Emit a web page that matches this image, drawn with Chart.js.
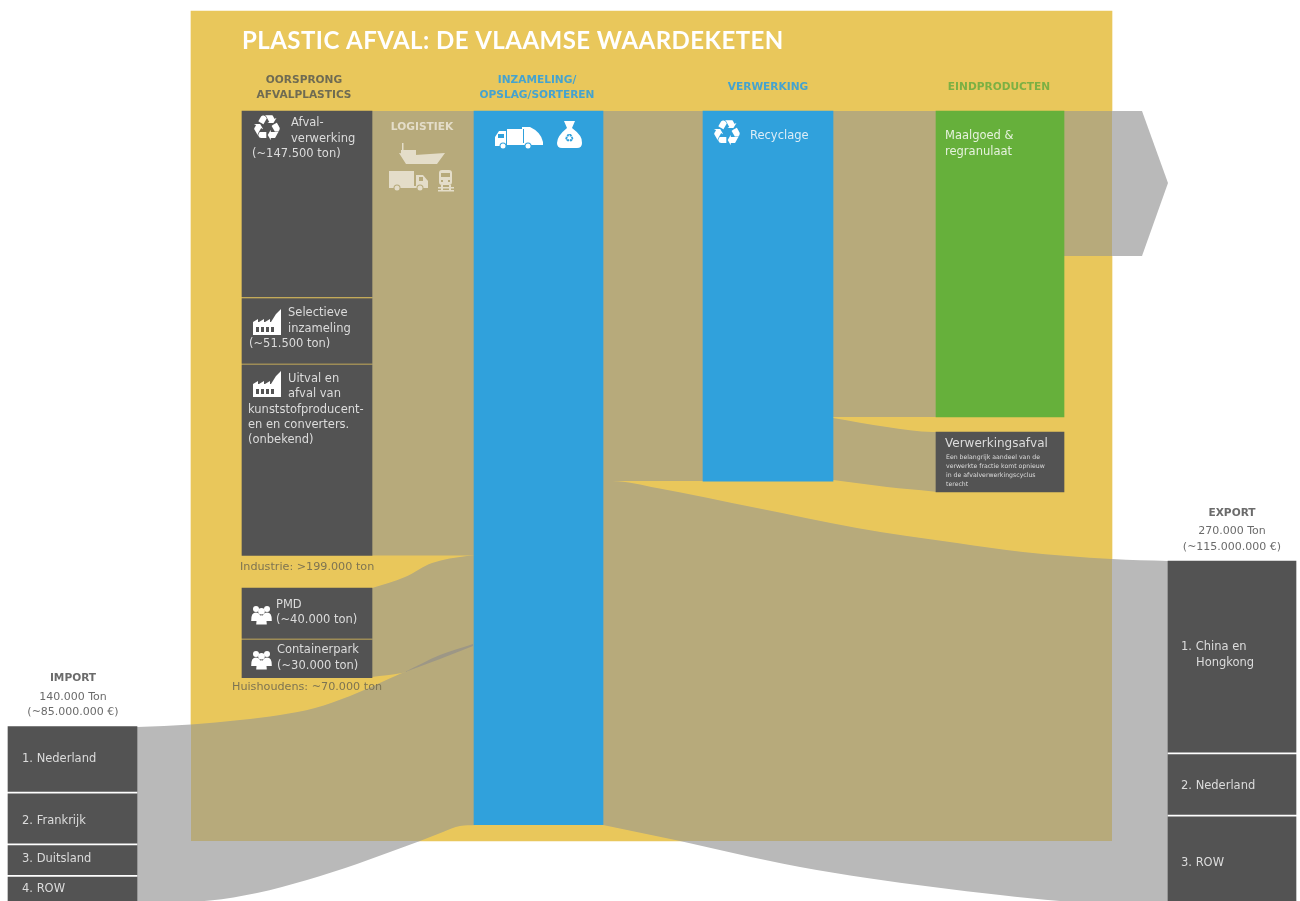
<!DOCTYPE html>
<html>
<head>
<meta charset="utf-8">
<title>Plastic afval: de Vlaamse waardeketen</title>
<script src="https://cdn.jsdelivr.net/npm/chart.js@4"></script>
<style>
  html, body { margin: 0; padding: 0; background: #fff; }
  canvas { display: block; }
</style>
</head>
<body>
<canvas id="chain" width="1300" height="901"></canvas>
<script>
// Tonnages per node
const sourceTons = [147500, 51500, 151000];
const householdTons = [40000, 30000];
const importCountries = ["1. Nederland", "2. Frankrijk", "3. Duitsland", "4. ROW"];
const importTons = [51500, 39000, 23000, 26500];
const exportCountries = ["1. China en", "2. Nederland", "3. ROW"];
const exportTons = [151500, 47500, 71000];
const collectedTons = [566000];
const recycledTons = [293500];
const productTons = [242500];
const residueTons = [47500];

const TONS_PER_PX = 793;

const YELLOW = "#e9c75b";
const KHAKI = "#b7aa7b";
const GREY = "#b9b9b9";
const DARK = "#535353";
const BLUE = "#30a1dc";
const GREEN = "#66b03b";
const FONT = '"DejaVu Sans"';

// Builds one floating bar per node, stacked downwards from a top position
function column(center, width, top, tons, color, gap) {
  let y = top;
  return tons.map((t) => {
    const end = y + t / TONS_PER_PX;
    const ds = {
      type: "bar",
      data: [{ x: center, y: [y, end] }],
      backgroundColor: color,
      barThickness: width,
      grouped: false,
      order: 1,
    };
    y = end + gap;
    return ds;
  });
}

// A flow band is two line datasets with the fill between them
function band(upper, lower, opts = {}) {
  const curve = opts.straight
    ? { cubicInterpolationMode: "default", tension: 0 }
    : { cubicInterpolationMode: "monotone" };
  const edge = {
    type: "line",
    pointRadius: 0,
    borderWidth: 0,
    borderColor: "transparent",
    order: opts.order || 10,
    isFlow: !opts.color,
    ...curve,
  };
  const toPoints = (list) => list.map(([x, y]) => ({ x, y }));
  return [
    { ...edge, data: toPoints(upper), fill: "+1", backgroundColor: opts.color || KHAKI },
    { ...edge, data: toPoints(lower), fill: false },
  ];
}

const datasets = [
  // flows
  ...band([[372, 111], [476, 111]], [[372, 555.5], [476, 555.5]], { straight: true }),
  ...band(
    [[372, 588], [405, 577], [432, 563], [467, 556], [476, 555]],
    [[372, 677], [402, 673], [430, 665], [476, 645]]
  ),
  ...band(
    [[137, 727], [191, 724.5], [240, 720], [280, 715], [315, 708], [350, 696], [402, 673], [440, 657], [476, 643]],
    [[137, 903], [210, 900.5], [257, 893], [307, 880], [357, 864], [390, 852], [420, 841], [443, 832], [460, 826], [476, 825]]
  ),
  ...band([[603, 111], [703, 111]], [[603, 481], [703, 481]], { straight: true }),
  ...band(
    [[603, 481], [612, 481], [657, 488], [757, 508], [857, 528], [957, 543], [1023, 552], [1112, 559], [1168, 561]],
    [[603, 825], [680, 841], [733, 853], [800, 867], [867, 878], [933, 887], [1000, 895], [1060, 901], [1168, 906]]
  ),
  ...band([[833, 111], [936, 111]], [[833, 417], [936, 417]], { straight: true }),
  ...band(
    [[833, 418], [887, 427], [933, 432], [936, 432]],
    [[833, 480], [887, 487], [933, 491.5], [936, 492]]
  ),
  ...band(
    [[1064, 111], [1142, 111], [1168, 183]],
    [[1064, 256], [1142, 256], [1168, 183]],
    { straight: true }
  ),
  // darker slivers where two flows run over each other
  ...band([[405, 672], [440, 655], [473, 644]], [[405, 672], [440, 659], [473, 646]], { color: "#9d9786", order: 5 }),
  ...band([[595, 825], [603, 745]], [[595, 825], [603, 825]], { color: "#7f9cb8", order: 0, straight: true }),
  // nodes
  ...column(307, 130, 111, sourceTons, DARK, 1.5),
  ...column(307, 130, 588, householdTons, DARK, 1.5),
  ...column(72.5, 129, 726.5, importTons, DARK, 2.5),
  ...column(1232, 128, 561, exportTons, DARK, 2.5),
  ...column(538.5, 129, 111, collectedTons, BLUE, 0),
  ...column(768, 130, 111, recycledTons, BLUE, 0),
  ...column(1000, 128, 111, productTons, GREEN, 0),
  ...column(1000, 128, 432, residueTons, DARK, 0),
  // background panel
  {
    type: "bar",
    data: [{ x: 651.5, y: [11, 841] }],
    backgroundColor: YELLOW,
    barThickness: 921,
    grouped: false,
    order: 20,
  },
];

const WHITE = "#ffffff";
const SOFT = "#dcdcdc";
const SAND = "#e4ddc9";
const OLIVE = "#7d7452";
const HEAD_DARK = "#6f6b52";
const HEAD_BLUE = "#45a3cf";
const HEAD_GREEN = "#7cb043";
const CAPTION = "#6b6b6b";

// text, x, y (middle), size, colour, weight, align
const captions = [
  ["OORSPRONG", 304, 80, 10.6, HEAD_DARK, "bold", "center"],
  ["AFVALPLASTICS", 304, 95, 10.6, HEAD_DARK, "bold", "center"],
  ["INZAMELING/", 537, 80, 10.6, HEAD_BLUE, "bold", "center"],
  ["OPSLAG/SORTEREN", 537, 95, 10.6, HEAD_BLUE, "bold", "center"],
  ["VERWERKING", 768, 87, 10.6, HEAD_BLUE, "bold", "center"],
  ["EINDPRODUCTEN", 999, 87, 10.6, HEAD_GREEN, "bold", "center"],
  ["LOGISTIEK", 422, 127, 10.6, SAND, "bold", "center"],
  ["Afval-", 291, 123, 11.5, SOFT],
  ["verwerking", 291, 139, 11.5, SOFT],
  ["(~147.500 ton)", 252, 154, 11.5, SOFT],
  ["Selectieve", 288, 313, 11.5, SOFT],
  ["inzameling", 288, 329, 11.5, SOFT],
  ["(~51.500 ton)", 249, 344, 11.5, SOFT],
  ["Uitval en", 288, 379, 11.5, SOFT],
  ["afval van", 288, 394, 11.5, SOFT],
  ["kunststofproducent-", 248, 410, 11.5, SOFT],
  ["en en converters.", 248, 425, 11.5, SOFT],
  ["(onbekend)", 248, 440, 11.5, SOFT],
  ["Industrie: >199.000 ton", 240, 567, 11.2, OLIVE],
  ["PMD", 276, 605, 11.5, SOFT],
  ["(~40.000 ton)", 276, 620, 11.5, SOFT],
  ["Containerpark", 277, 650, 11.5, SOFT],
  ["(~30.000 ton)", 277, 666, 11.5, SOFT],
  ["Huishoudens: ~70.000 ton", 232, 687, 11.2, OLIVE],
  ["IMPORT", 73, 678, 10.6, CAPTION, "bold", "center"],
  ["140.000 Ton", 73, 697, 11, CAPTION, "normal", "center"],
  ["(~85.000.000 €)", 73, 712, 11, CAPTION, "normal", "center"],
  [importCountries[0], 22, 759, 11.5, SOFT],
  [importCountries[1], 22, 821, 11.5, SOFT],
  [importCountries[2], 22, 859, 11.5, SOFT],
  [importCountries[3], 22, 889, 11.5, SOFT],
  ["EXPORT", 1232, 513, 10.6, CAPTION, "bold", "center"],
  ["270.000 Ton", 1232, 531, 11, CAPTION, "normal", "center"],
  ["(~115.000.000 €)", 1232, 547, 11, CAPTION, "normal", "center"],
  [exportCountries[0], 1181, 647, 11.5, SOFT],
  ["Hongkong", 1196, 663, 11.5, SOFT],
  [exportCountries[1], 1181, 786, 11.5, SOFT],
  [exportCountries[2], 1181, 863, 11.5, SOFT],
  ["Recyclage", 750, 136, 11.5, "#dcedf7"],
  ["Maalgoed &", 945, 136, 11.5, "#e6f2dd"],
  ["regranulaat", 945, 152, 11.5, "#e6f2dd"],
  ["Verwerkingsafval", 945, 444, 12, SOFT],
  ["Een belangrijk aandeel van de", 946, 457, 6.2, SOFT],
  ["verwerkte fractie komt opnieuw", 946, 466, 6.2, SOFT],
  ["in de afvalverwerkingscyclus", 946, 475, 6.2, SOFT],
  ["terecht", 946, 484, 6.2, SOFT],
];

function drawFactory(ctx, x, y) {
  ctx.fillStyle = WHITE;
  ctx.beginPath();
  ctx.moveTo(x, y + 26);
  ctx.lineTo(x, y + 13);
  for (let i = 0; i < 3; i++) {
    ctx.lineTo(x + 5 + i * 6, y + 10);
    ctx.lineTo(x + 5 + i * 6, y + 13);
    ctx.lineTo(x + 6 + i * 6, y + 13);
  }
  ctx.lineTo(x + 23, y + 5);
  ctx.lineTo(x + 28, y);
  ctx.lineTo(x + 28, y + 26);
  ctx.closePath();
  ctx.fill();
  ctx.fillStyle = DARK;
  for (let i = 0; i < 4; i++) ctx.fillRect(x + 3 + i * 5, y + 18, 3, 5);
}

function drawPeople(ctx, x, y) {
  ctx.fillStyle = WHITE;
  const person = (cx, top, r) => {
    ctx.beginPath();
    ctx.arc(cx, top + r, r, 0, Math.PI * 2);
    ctx.fill();
    ctx.beginPath();
    ctx.moveTo(cx - r * 1.6, top + r * 5);
    ctx.quadraticCurveTo(cx - r * 1.7, top + r * 2.2, cx, top + r * 2.2);
    ctx.quadraticCurveTo(cx + r * 1.7, top + r * 2.2, cx + r * 1.6, top + r * 5);
    ctx.closePath();
    ctx.fill();
  };
  person(x + 4, y + 1, 3);
  person(x + 15, y + 1, 3);
  person(x + 9.5, y + 3, 3.3);
}

function drawLorry(ctx, x, y, color, bg) {
  ctx.fillStyle = color;
  ctx.fillRect(x, y, 25, 15);
  ctx.beginPath();
  ctx.moveTo(x + 27, y + 4);
  ctx.lineTo(x + 34, y + 4);
  ctx.lineTo(x + 39, y + 10);
  ctx.lineTo(x + 39, y + 16);
  ctx.lineTo(x + 27, y + 16);
  ctx.closePath();
  ctx.fill();
  ctx.fillRect(x, y + 15, 39, 2);
  ctx.fillStyle = bg;
  ctx.fillRect(x + 30, y + 6, 4, 4);
  wheel(ctx, x + 8, y + 17, color, bg);
  wheel(ctx, x + 31, y + 17, color, bg);
}

function wheel(ctx, x, y, color, bg) {
  ctx.fillStyle = bg;
  ctx.beginPath();
  ctx.arc(x, y, 3.5, 0, Math.PI * 2);
  ctx.fill();
  ctx.fillStyle = color;
  ctx.beginPath();
  ctx.arc(x, y, 2.5, 0, Math.PI * 2);
  ctx.fill();
}

function drawShip(ctx, x, y, color) {
  ctx.fillStyle = color;
  ctx.fillRect(x + 3, y, 1.5, 10);
  ctx.fillRect(x + 2, y + 7, 15, 5);
  ctx.beginPath();
  ctx.moveTo(x, y + 10);
  ctx.lineTo(x + 16, y + 12);
  ctx.lineTo(x + 46, y + 10);
  ctx.lineTo(x + 38, y + 21);
  ctx.lineTo(x + 7, y + 21);
  ctx.closePath();
  ctx.fill();
}

function drawTrain(ctx, x, y, color, bg) {
  ctx.fillStyle = color;
  ctx.beginPath();
  ctx.roundRect(x + 1, y, 13, 15, 3);
  ctx.fill();
  ctx.fillStyle = bg;
  ctx.fillRect(x + 3, y + 3, 9, 4);
  ctx.fillRect(x + 3, y + 10, 2, 2);
  ctx.fillRect(x + 10, y + 10, 2, 2);
  ctx.fillStyle = color;
  ctx.fillRect(x, y + 17, 16, 1.5);
  ctx.fillRect(x, y + 20, 16, 1.5);
  ctx.fillRect(x + 3, y + 15, 2, 6);
  ctx.fillRect(x + 11, y + 15, 2, 6);
}

function drawGarbageTruck(ctx, x, y) {
  ctx.fillStyle = WHITE;
  ctx.fillRect(x + 13, y + 3, 15, 16);
  ctx.beginPath();
  ctx.moveTo(x + 28, y + 1);
  ctx.lineTo(x + 36, y + 1);
  ctx.quadraticCurveTo(x + 47, y + 6, x + 49, y + 16);
  ctx.lineTo(x + 49, y + 19);
  ctx.lineTo(x + 28, y + 19);
  ctx.closePath();
  ctx.fill();
  ctx.beginPath();
  ctx.moveTo(x + 1, y + 20);
  ctx.lineTo(x + 1, y + 11);
  ctx.lineTo(x + 5, y + 5);
  ctx.lineTo(x + 12, y + 5);
  ctx.lineTo(x + 12, y + 20);
  ctx.closePath();
  ctx.fill();
  ctx.fillStyle = BLUE;
  ctx.fillRect(x + 4, y + 8, 6, 4);
  ctx.fillRect(x + 29, y + 3, 1, 14);
  wheel(ctx, x + 9, y + 20, WHITE, BLUE);
  wheel(ctx, x + 34, y + 20, WHITE, BLUE);
}

function drawBag(ctx, x, y) {
  ctx.fillStyle = WHITE;
  ctx.beginPath();
  ctx.moveTo(x + 7, y);
  ctx.lineTo(x + 18, y);
  ctx.lineTo(x + 15, y + 7);
  ctx.quadraticCurveTo(x + 26, y + 15, x + 25, y + 22);
  ctx.quadraticCurveTo(x + 25, y + 27, x + 20, y + 27);
  ctx.lineTo(x + 5, y + 27);
  ctx.quadraticCurveTo(x, y + 27, x, y + 22);
  ctx.quadraticCurveTo(x, y + 15, x + 10, y + 7);
  ctx.closePath();
  ctx.fill();
  ctx.fillStyle = BLUE;
  ctx.font = "11px " + FONT;
  ctx.textAlign = "center";
  ctx.textBaseline = "middle";
  ctx.fillText("♻", x + 12.5, y + 18);
}

// Captions and pictograms go on top of the datasets
const annotations = {
  id: "annotations",
  afterDatasetsDraw(chart) {
    const { ctx, scales } = chart;
    const px = (v) => scales.x.getPixelForValue(v);
    const py = (v) => scales.y.getPixelForValue(v);
    ctx.save();

    ctx.font = 'bold 24px Lato';
    ctx.letterSpacing = "0.46px";
    ctx.fillStyle = WHITE;
    ctx.textAlign = "left";
    ctx.textBaseline = "middle";
    ctx.fillText("PLASTIC AFVAL: DE VLAAMSE WAARDEKETEN", px(242), py(41));
    ctx.letterSpacing = "0px";

    captions.forEach(([text, x, y, size, color, weight = "normal", align = "left"]) => {
      ctx.font = `${weight} ${size}px ${FONT}`;
      ctx.fillStyle = color;
      ctx.textAlign = align;
      ctx.textBaseline = "middle";
      ctx.fillText(text, px(x), py(y));
    });

    // recycling marks
    ctx.fillStyle = WHITE;
    ctx.font = "35px " + FONT;
    ctx.textAlign = "center";
    ctx.textBaseline = "middle";
    ctx.fillText("♻", px(267), py(131));
    ctx.fillText("♻", px(727), py(136));

    drawFactory(ctx, px(253), py(309));
    drawFactory(ctx, px(253), py(371));
    drawPeople(ctx, px(252), py(605));
    drawPeople(ctx, px(252), py(650));
    drawShip(ctx, px(399), py(143), SAND);
    drawLorry(ctx, px(389), py(171), SAND, KHAKI);
    drawTrain(ctx, px(438), py(170), SAND, KHAKI);
    drawGarbageTruck(ctx, px(494), py(126));
    drawBag(ctx, px(557), py(121));

    ctx.restore();
  },
};

const chart = new Chart(document.getElementById("chain"), {
  type: "bar",
  data: { datasets },
  options: {
    responsive: false,
    animation: false,
    layout: { padding: 0 },
    plugins: {
      legend: { display: false },
      tooltip: { enabled: false },
      title: { display: false },
    },
    scales: {
      x: { type: "linear", min: 0, max: 1300, offset: false, display: false },
      y: { type: "linear", min: 0, max: 901, reverse: true, display: false },
    },
  },
  plugins: [annotations],
});

// Flows are grey on the white page and khaki where they cross the yellow panel
const { x: xScale, y: yScale } = chart.scales;
const tile = document.createElement("canvas");
tile.width = 1300;
tile.height = 901;
const tileCtx = tile.getContext("2d");
tileCtx.fillStyle = GREY;
tileCtx.fillRect(0, 0, tile.width, tile.height);
tileCtx.fillStyle = KHAKI;
tileCtx.fillRect(
  xScale.getPixelForValue(191),
  yScale.getPixelForValue(11),
  xScale.getPixelForValue(1112) - xScale.getPixelForValue(191),
  yScale.getPixelForValue(841) - yScale.getPixelForValue(11)
);
const flowFill = chart.ctx.createPattern(tile, "no-repeat");
datasets.filter((d) => d.isFlow).forEach((d) => {
  d.backgroundColor = flowFill;
});
chart.update("none");
</script>
</body>
</html>
